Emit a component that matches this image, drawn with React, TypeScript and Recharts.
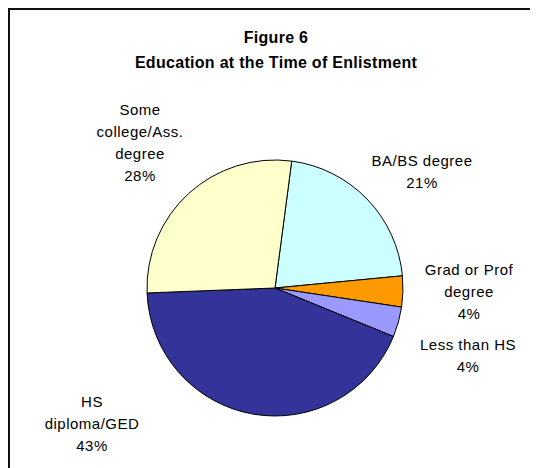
import React from "react";
import { Pie, PieChart, Cell } from "recharts";

const categories = [
  "BA/BS degree",
  "Grad or Prof\ndegree",
  "Less than HS",
  "HS\ndiploma/GED",
  "Some\ncollege/Ass.\ndegree",
];
const shares = [21.4, 3.9, 3.8, 43.2, 27.7];
const colors = ["#CCFFFF", "#FF9900", "#9999FF", "#333399", "#FFFFCC"];

// label block centres, relative to the pie centre
const labelOffsets = [
  [147, -117],
  [194, 3],
  [193, 67],
  [-183, 135],
  [-135, -146],
];

const data = categories.map((name, i) => ({ name, value: shares[i] }));

const FONT = "'Liberation Sans', Arial, sans-serif";
const LINE_H = 21.7;

function renderLabel(props: any) {
  const { cx, cy, index, percent, name } = props;
  const [dx, dy] = labelOffsets[index];
  const lines = [...String(name).split("\n"), `${Math.round(percent * 100)}%`];
  const top = cy + dy - ((lines.length - 1) * LINE_H) / 2;
  return (
    <text
      key={index}
      textAnchor="middle"
      dominantBaseline="central"
      fontFamily={FONT}
      fontSize={15}
      letterSpacing={0.5}
      fill="#000"
    >
      {lines.map((line, i) => (
        <tspan key={i} x={cx + dx} y={top + i * LINE_H}>
          {line}
        </tspan>
      ))}
    </text>
  );
}

export default function App() {
  return (
    <div style={{ position: "relative", width: 530, height: 460, background: "#fff" }}>
      <div style={{ position: "absolute", left: 0, top: 0, width: 530, height: 2, background: "#111" }} />
      <div style={{ position: "absolute", left: 0, top: 0, width: 2, height: 460, background: "#111" }} />
      <div
        style={{
          position: "absolute",
          left: 0,
          width: 530,
          top: 17,
          textAlign: "center",
          fontFamily: FONT,
          fontWeight: "bold",
          fontSize: 16,
          letterSpacing: 0.3,
          lineHeight: "25px",
          color: "#000",
          paddingLeft: 6,
          boxSizing: "border-box",
        }}
      >
        <div>Figure 6</div>
        <div>Education at the Time of Enlistment</div>
      </div>
      <PieChart
        width={530}
        height={460}
        margin={{ top: 0, right: 0, bottom: 0, left: 0 }}
        style={{ position: "absolute", left: 0, top: 0 }}
      >
        <Pie
          data={data}
          dataKey="value"
          nameKey="name"
          cx={267}
          cy={280}
          outerRadius={128}
          startAngle={82.5}
          endAngle={-277.5}
          stroke="#000"
          strokeWidth={1}
          label={renderLabel}
          labelLine={false}
          isAnimationActive={false}
        >
          {data.map((entry, index) => (
            <Cell key={entry.name} fill={colors[index]} />
          ))}
        </Pie>
      </PieChart>
    </div>
  );
}
